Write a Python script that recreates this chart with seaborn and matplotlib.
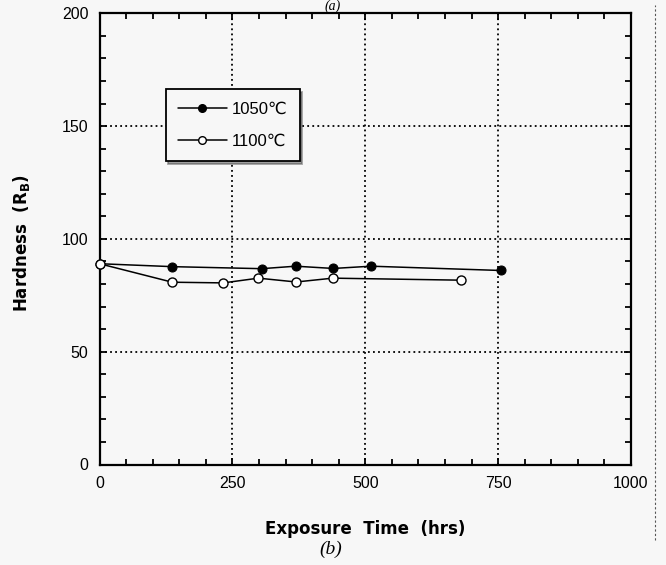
import matplotlib
matplotlib.use("Agg")
import matplotlib.pyplot as plt
import seaborn as sns
import pandas as pd
from matplotlib.lines import Line2D
from matplotlib.ticker import MultipleLocator

# Data
time_1050 = [0, 137, 305, 369, 440, 511, 755]
hard_1050 = [89, 87.7, 86.8, 87.9, 86.9, 87.9, 86.0]
time_1100 = [0, 137, 233, 299, 370, 439, 681]
hard_1100 = [89, 80.8, 80.5, 82.6, 80.9, 82.6, 81.7]
labels = ["1050\u2103", "1100\u2103"]
x_ticks = [0, 250, 500, 750, 1000]
y_ticks = [0, 50, 100, 150, 200]

sns.set_style("ticks")
plt.rcParams["font.family"] = ["Liberation Sans", "DejaVu Sans"]
plt.rcParams["mathtext.fontset"] = "custom"
plt.rcParams["mathtext.bf"] = "DejaVu Sans:bold"
plt.rcParams["mathtext.rm"] = "DejaVu Sans"
plt.rcParams["text.color"] = "black"
plt.rcParams["axes.labelcolor"] = "black"
plt.rcParams["xtick.color"] = "black"
plt.rcParams["ytick.color"] = "black"

bg = "#f7f7f7"
fig = plt.figure(figsize=(6.66, 5.65), dpi=100, facecolor=bg)
ax = fig.add_axes([99.5 / 666, (565 - 464.5) / 565, 531.5 / 666, 451.2 / 565])
ax.set_facecolor(bg)

df1 = pd.DataFrame({"t": time_1050, "h": hard_1050})
df2 = pd.DataFrame({"t": time_1100, "h": hard_1100})

sns.lineplot(data=df1, x="t", y="h", ax=ax, color="black", lw=1.1,
             marker="o", markersize=6.5, markerfacecolor="black",
             markeredgecolor="black", zorder=5, clip_on=False)
sns.lineplot(data=df2, x="t", y="h", ax=ax, color="black", lw=1.1,
             marker="o", markersize=6.5, markerfacecolor="white",
             markeredgecolor="black", markeredgewidth=1.0, zorder=6, clip_on=False)

ax.set_xlim(0, 1000)
ax.set_ylim(0, 200)
ax.set_xticks(x_ticks)
ax.set_yticks(y_ticks)
ax.xaxis.set_minor_locator(MultipleLocator(50))
ax.yaxis.set_minor_locator(MultipleLocator(10))
ax.tick_params(which="both", direction="in", top=True, right=True,
               width=1.3, color="black")
ax.tick_params(which="major", length=5, labelsize=11.5, pad=8, labelcolor="black")
ax.tick_params(which="minor", length=4)
for s in ax.spines.values():
    s.set_linewidth(1.6)
    s.set_color("black")

ax.grid(True, which="major", color="black", linestyle=(0, (1, 1.8)), linewidth=1.3)
ax.set_axisbelow(False)

lab_font = ["DejaVu Sans"]
ax.set_xlabel("Exposure  Time  (hrs)", fontsize=12, fontweight="bold",
              family=lab_font, color="black")
ax.set_ylabel(r"Hardness  ($\mathbf{R_B}$)", fontsize=12, fontweight="bold",
              family=lab_font, color="black")
ax.xaxis.set_label_coords(0.5, -0.123)
ax.yaxis.set_label_coords(-0.127, 0.49)

handles = [
    Line2D([], [], color="black", lw=1.1, marker="o", markersize=5.5,
           markerfacecolor="black", markeredgecolor="black"),
    Line2D([], [], color="black", lw=1.1, marker="o", markersize=5.5,
           markerfacecolor="white", markeredgecolor="black"),
]
leg = ax.legend(handles, labels, loc="upper left",
                bbox_to_anchor=((165.7 - 99.5) / 531.5, (464.5 - 89) / 451.2),
                borderaxespad=0, frameon=True, fancybox=False, shadow=True,
                edgecolor="black", facecolor=bg, framealpha=1, fontsize=12,
                handlelength=2.9, handletextpad=0.3, labelspacing=1.05,
                borderpad=0.75, labelcolor="black")
leg.get_frame().set_linewidth(1.3)
leg.set_zorder(10)

fig.text(333 / 666, 1.0, "(a)", ha="center", va="top", color="black",
         fontsize=10, style="italic", family=["Liberation Serif", "DejaVu Serif"])
fig.text(331 / 666, 1 - 549 / 565, "(b)", ha="center", va="center", color="black",
         fontsize=14, style="italic", family=["Liberation Serif", "DejaVu Serif"])

# scan edge line at the right
fig.add_artist(Line2D([655 / 666, 655 / 666], [1 - 540 / 565, 1 - 5 / 565],
                      transform=fig.transFigure, color="#555555",
                      lw=0.8, linestyle=(0, (2, 2))))

fig.savefig("out.png", dpi=100, facecolor=bg)
